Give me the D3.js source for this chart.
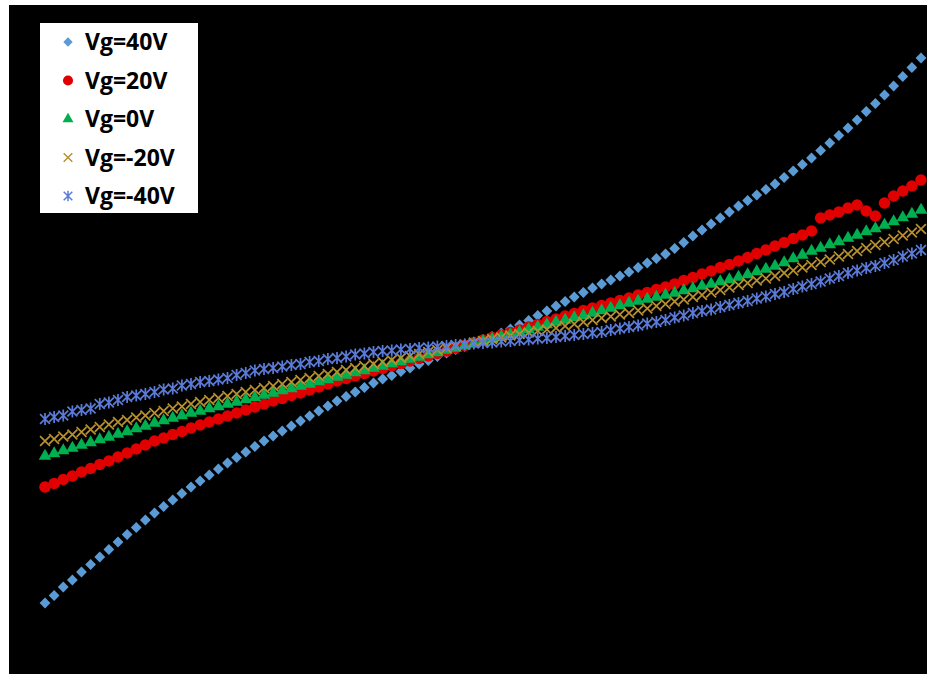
<!DOCTYPE html>
<html>
<head>
<meta charset="utf-8">
<script src="https://cdn.jsdelivr.net/npm/d3@7"></script>
<style>
  html, body { margin: 0; padding: 0; background: #ffffff; }
  svg { display: block; }
</style>
</head>
<body>
<svg id="chart" width="927" height="674"></svg>
<script>
// Drain voltage sweep (V)
const vdStart = -0.96, vdStep = 0.02, vdCount = 97;
const vd = Array.from({length: vdCount}, (_, i) => +(vdStart + i * vdStep).toFixed(2));

// Drain current (a.u.) for each gate voltage
const id40 = [
  -5.24, -5.09, -4.92, -4.78, -4.62,
  -4.47, -4.32, -4.17, -4.02,
  -3.87, -3.73, -3.58, -3.44,
  -3.31, -3.18, -3.05, -2.92,
  -2.80, -2.68, -2.56, -2.44,
  -2.33, -2.22, -2.11, -2.00,
  -1.90, -1.80, -1.70, -1.60,
  -1.50, -1.40, -1.30, -1.20,
  -1.11, -1.02, -0.93, -0.84,
  -0.76, -0.69, -0.61, -0.54,
  -0.46, -0.39, -0.31, -0.24,
  -0.17, -0.11, -0.04, 0.02,
  0.09, 0.16, 0.24, 0.32,
  0.41, 0.51, 0.60, 0.70,
  0.79, 0.88, 0.97, 1.06,
  1.14, 1.22, 1.30, 1.38,
  1.47, 1.56, 1.65, 1.74,
  1.85, 1.97, 2.10, 2.22,
  2.34, 2.46, 2.58, 2.70,
  2.81, 2.92, 3.03, 3.14,
  3.27, 3.40, 3.53, 3.66,
  3.81, 3.96, 4.11, 4.26,
  4.42, 4.59, 4.75, 4.92,
  5.10, 5.29, 5.47, 5.66
];
const id20 = [
  -2.92, -2.85, -2.77, -2.70, -2.62,
  -2.55, -2.47, -2.40, -2.32,
  -2.24, -2.16, -2.08, -2.00,
  -1.94, -1.87, -1.81, -1.74,
  -1.68, -1.62, -1.56, -1.50,
  -1.44, -1.38, -1.32, -1.26,
  -1.20, -1.15, -1.09, -1.04,
  -0.98, -0.92, -0.86, -0.80,
  -0.75, -0.70, -0.65, -0.60,
  -0.55, -0.50, -0.45, -0.40,
  -0.35, -0.30, -0.25, -0.20,
  -0.14, -0.09, -0.03, 0.02,
  0.07, 0.12, 0.17, 0.22,
  0.28, 0.33, 0.39, 0.44,
  0.50, 0.55, 0.61, 0.66,
  0.71, 0.76, 0.81, 0.86,
  0.92, 0.97, 1.03, 1.08,
  1.14, 1.21, 1.27, 1.34,
  1.40, 1.47, 1.53, 1.60,
  1.67, 1.75, 1.82, 1.90,
  1.97, 2.05, 2.12, 2.20,
  2.46, 2.52, 2.58, 2.66,
  2.72, 2.60, 2.50, 2.76,
  2.90, 3.00, 3.10, 3.22
];
const id0 = [
  -2.30, -2.25, -2.19, -2.14, -2.08,
  -2.03, -1.97, -1.92, -1.86,
  -1.81, -1.75, -1.70, -1.64,
  -1.59, -1.54, -1.49, -1.44,
  -1.40, -1.35, -1.31, -1.26,
  -1.22, -1.17, -1.13, -1.08,
  -1.04, -0.99, -0.95, -0.90,
  -0.86, -0.81, -0.77, -0.72,
  -0.68, -0.63, -0.59, -0.54,
  -0.50, -0.45, -0.41, -0.36,
  -0.32, -0.27, -0.23, -0.18,
  -0.14, -0.09, -0.05, 0.00,
  0.04, 0.09, 0.13, 0.18,
  0.23, 0.28, 0.33, 0.38,
  0.42, 0.47, 0.51, 0.56,
  0.61, 0.66, 0.71, 0.76,
  0.80, 0.84, 0.88, 0.92,
  0.96, 1.01, 1.05, 1.10,
  1.14, 1.19, 1.23, 1.28,
  1.33, 1.39, 1.44, 1.50,
  1.57, 1.65, 1.72, 1.80,
  1.86, 1.93, 1.99, 2.06,
  2.12, 2.19, 2.25, 2.32,
  2.39, 2.47, 2.54, 2.62
];
const idm20 = [
  -2.00, -1.96, -1.91, -1.87, -1.82,
  -1.77, -1.72, -1.67, -1.62,
  -1.58, -1.53, -1.49, -1.44,
  -1.40, -1.35, -1.31, -1.26,
  -1.22, -1.18, -1.14, -1.10,
  -1.06, -1.02, -0.98, -0.94,
  -0.90, -0.86, -0.82, -0.78,
  -0.74, -0.70, -0.66, -0.62,
  -0.58, -0.54, -0.50, -0.46,
  -0.42, -0.38, -0.34, -0.30,
  -0.26, -0.22, -0.18, -0.14,
  -0.10, -0.07, -0.03, 0.00,
  0.04, 0.07, 0.11, 0.14,
  0.17, 0.20, 0.23, 0.26,
  0.30, 0.34, 0.38, 0.42,
  0.46, 0.49, 0.53, 0.56,
  0.61, 0.65, 0.70, 0.74,
  0.79, 0.83, 0.88, 0.92,
  0.97, 1.02, 1.07, 1.12,
  1.16, 1.21, 1.25, 1.30,
  1.36, 1.41, 1.47, 1.52,
  1.58, 1.63, 1.69, 1.74,
  1.80, 1.86, 1.92, 1.98,
  2.04, 2.11, 2.17, 2.24
];
const idm40 = [
  -1.56, -1.52, -1.49, -1.41, -1.38,
  -1.35, -1.26, -1.23, -1.18,
  -1.12, -1.09, -1.06, -1.02,
  -0.97, -0.95, -0.89, -0.86,
  -0.82, -0.80, -0.77, -0.74,
  -0.68, -0.64, -0.59, -0.56,
  -0.54, -0.51, -0.48, -0.46,
  -0.42, -0.40, -0.36, -0.34,
  -0.31, -0.27, -0.25, -0.22,
  -0.20, -0.19, -0.17, -0.16,
  -0.14, -0.13, -0.11, -0.10,
  -0.08, -0.07, -0.05, -0.04,
  -0.03, -0.01, 0.00, 0.02,
  0.03, 0.05, 0.06, 0.08,
  0.10, 0.12, 0.14, 0.16,
  0.18, 0.22, 0.25, 0.28,
  0.31, 0.35, 0.38, 0.42,
  0.47, 0.51, 0.56, 0.60,
  0.63, 0.68, 0.72, 0.76,
  0.80, 0.85, 0.89, 0.94,
  0.98, 1.04, 1.09, 1.14,
  1.19, 1.25, 1.30, 1.36,
  1.41, 1.46, 1.50, 1.56,
  1.62, 1.69, 1.75, 1.82
];

const seriesLabels = ["Vg=40V", "Vg=20V", "Vg=0V", "Vg=-20V", "Vg=-40V"];
const seriesValues = [id40, id20, id0, idm20, idm40];
const seriesColors = ["#5b9bd5", "#e00000", "#00b050", "#b8912f", "#5a7bd8"];
const seriesMarkers = ["diamond", "circle", "triangle", "cross", "star"];

const svg = d3.select("#chart");
const W = 927, H = 674;

// plot area (black panel)
svg.append("rect")
  .attr("x", 9).attr("y", 5)
  .attr("width", W - 9).attr("height", H - 5)
  .attr("fill", "#000000");

const x = d3.scaleLinear().domain([-1, 1]).range([26.75, 939.25]);
const y = d3.scaleLinear().domain([-6, 6]).range([641, 41]);

// marker shapes; scale k enlarges plot markers relative to the legend ones
function markerPath(kind, k) {
  const r = 4.3 * k;
  switch (kind) {
    case "diamond": return d3.symbol().type(d3.symbolSquare).size(44 * k * k)();
    case "circle": return d3.symbol().type(d3.symbolCircle).size(80 * k * k)();
    case "triangle": return d3.symbol().type(d3.symbolTriangle).size(52 * k * k)();
    case "cross": return `M${-r},${-r}L${r},${r}M${-r},${r}L${r},${-r}`;
    case "star": return `M${-r},${-r}L${r},${r}M${-r},${r}L${r},${-r}M0,${-r * 1.2}L0,${r * 1.2}`;
  }
}

function drawMarker(sel, kind, color, k) {
  const p = sel.append("path").attr("d", markerPath(kind, k));
  if (kind === "cross" || kind === "star") {
    p.attr("fill", "none").attr("stroke", color).attr("stroke-width", 1.5 * k);
  } else {
    p.attr("fill", color);
  }
  if (kind === "diamond") p.attr("transform", "rotate(45)");
  return p;
}

const plot = svg.append("g");
seriesValues.forEach((vals, s) => {
  const g = plot.append("g");
  const pts = g.selectAll("g.pt")
    .data(vals.map((v, i) => ({ vd: vd[i], id: v })))
    .join("g")
    .attr("class", "pt")
    .attr("transform", d => `translate(${x(d.vd)},${y(d.id)})`);
  pts.each(function () { drawMarker(d3.select(this), seriesMarkers[s], seriesColors[s], 1.15); });
});

// legend
const legend = svg.append("g");
legend.append("rect")
  .attr("x", 40).attr("y", 23).attr("width", 158).attr("height", 190)
  .attr("fill", "#ffffff");
const rowY = d3.scalePoint().domain(seriesLabels).range([42, 196]);
seriesLabels.forEach((lab, s) => {
  const row = legend.append("g").attr("transform", `translate(0,${rowY(lab)})`);
  const m = row.append("g").attr("transform", "translate(68,0)");
  drawMarker(m, seriesMarkers[s], seriesColors[s], 1);
  row.append("text")
    .attr("x", 85).attr("y", 8)
    .attr("font-family", "'Open Sans', sans-serif")
    .attr("font-weight", "bold")
    .attr("font-size", 23)
    .attr("fill", "#000000")
    .text(lab);
});
</script>
</body>
</html>
